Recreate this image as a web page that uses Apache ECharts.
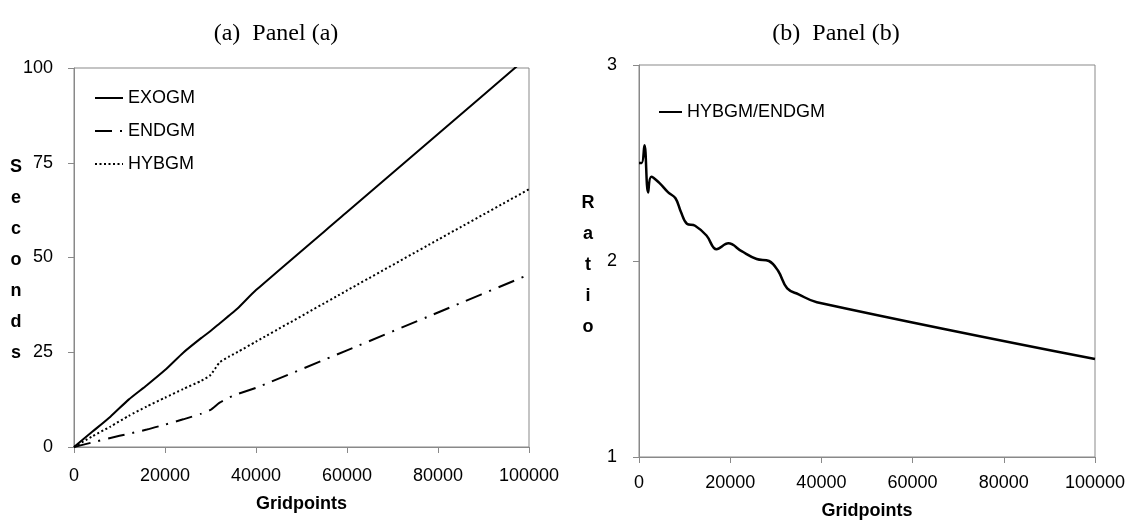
<!DOCTYPE html>
<html><head><meta charset="utf-8">
<script src="https://cdn.jsdelivr.net/npm/echarts@6/dist/echarts.min.js"></script>
<style>html,body{margin:0;padding:0;background:#fff}#c{width:1131px;height:525px}</style>
</head><body><div id="c"></div>
<script>
// ---- Panel (a) data ----
const gridpointsA = [0, 4000, 8000, 12000, 16000, 20000, 24000, 28000, 30000, 32000, 34000, 36000, 40000, 60000, 80000, 100000];
const exogm = [0, 4.0, 8.0, 12.5, 16.3, 20.3, 24.9, 28.8, 30.6, 32.6, 34.6, 36.6, 41.4, 62.0, 82.6, 103.2];
const endgm = [0, 1.2, 2.4, 3.5, 4.6, 5.9, 7.3, 8.8, 9.8, 11.7, 13.0, 14.0, 15.6, 25.5, 35.5, 45.5];
const hybgm = [0, 2.8, 5.4, 8.2, 10.7, 13.0, 15.3, 17.5, 19.0, 22.3, 23.8, 25.1, 27.8, 41.3, 54.7, 68.0];
// ---- Panel (b) data ----
const gridpointsB = [0, 600, 1200, 2000, 2700, 4400, 6400, 8000, 9200, 10500, 12300, 14800, 17000, 19600, 22500, 25800, 28500, 30500, 32500, 35000, 39000, 100000];
const ratio = [2.50, 2.50, 2.59, 2.35, 2.43, 2.40, 2.35, 2.32, 2.25, 2.19, 2.18, 2.13, 2.06, 2.09, 2.05, 2.01, 2.00, 1.95, 1.86, 1.83, 1.79, 1.50];
// ---- axis ranges / ticks ----
const xRange = {min: 0, max: 100000, interval: 20000};
const secondsRange = {min: 0, max: 100, interval: 25};
const ratioRange = {min: 1, max: 3, interval: 1};
const titles = ['(a)  Panel (a)', '(b)  Panel (b)'];
const axisNames = {x: 'Gridpoints', yA: 'Seconds', yB: 'Ratio'};

const pairs = (xs, ys) => xs.map((x, i) => [x, ys[i]]);
const AX = '#898989';
const FONT = '"Liberation Sans", Arial, sans-serif';

function xAxisCfg(gi, margin, gap) {
  return {
    gridIndex: gi, type: 'value', min: xRange.min, max: xRange.max, interval: xRange.interval,
    axisLine: {show: true, lineStyle: {color: AX, width: 1}},
    axisTick: {show: true, inside: false, length: 6, lineStyle: {color: AX}},
    splitLine: {show: false},
    axisLabel: {color: '#000', fontSize: 18, margin: margin, fontFamily: FONT, formatter: v => String(v)},
    name: axisNames.x, nameLocation: 'middle', nameGap: gap,
    nameTextStyle: {color: '#000', fontSize: 18, fontWeight: 'bold', fontFamily: FONT}
  };
}
function yAxisCfg(gi, r, margin) {
  return {
    gridIndex: gi, type: 'value', min: r.min, max: r.max, interval: r.interval,
    axisLine: {show: true, lineStyle: {color: AX, width: 1}},
    axisTick: {show: true, inside: false, length: 6, lineStyle: {color: AX}},
    splitLine: {show: false},
    axisLabel: {color: '#000', fontSize: 18, margin: margin, fontFamily: FONT, formatter: v => String(v)}
  };
}

const chart = echarts.init(document.getElementById('c'), null, {renderer: 'canvas'});
const option = {
  animation: false,
  backgroundColor: '#fff',
  textStyle: {fontFamily: FONT},
  grid: [
    {left: 74, top: 68, width: 455, height: 379, show: true, borderColor: AX, borderWidth: 1, backgroundColor: 'transparent'},
    {left: 639, top: 65, width: 456, height: 394, show: true, borderColor: AX, borderWidth: 1, backgroundColor: 'transparent'}
  ],
  xAxis: [xAxisCfg(0, 20, 48), xAxisCfg(1, 17, 45)],
  yAxis: [yAxisCfg(0, secondsRange, 21), yAxisCfg(1, ratioRange, 22)],
  legend: [
    {orient: 'vertical', left: 89, top: 84, itemWidth: 28, itemHeight: 14, itemGap: 15, selectedMode: false,
     data: ['EXOGM', 'ENDGM', 'HYBGM'], itemStyle: {opacity: 0},
     textStyle: {fontSize: 18, color: '#000', fontFamily: FONT}},
    {orient: 'vertical', left: 653, top: 98, itemWidth: 23, itemHeight: 14, selectedMode: false,
     data: ['HYBGM/ENDGM'], itemStyle: {opacity: 0},
     textStyle: {fontSize: 18, color: '#000', fontFamily: FONT}}
  ],
  graphic: [
    {type: 'text', x: 276, y: 34, style: {text: titles[0], font: '24px "Liberation Serif", serif', fill: '#000', textAlign: 'center', textVerticalAlign: 'middle'}},
    {type: 'text', x: 836, y: 34, style: {text: titles[1], font: '24px "Liberation Serif", serif', fill: '#000', textAlign: 'center', textVerticalAlign: 'middle'}},
    {type: 'text', x: 16, y: 260, style: {text: axisNames.yA.split('').join('\n'), font: 'bold 18px "Liberation Sans", Arial', lineHeight: 31, fill: '#000', textAlign: 'center', textVerticalAlign: 'middle'}},
    {type: 'text', x: 588, y: 265, style: {text: axisNames.yB.split('').join('\n'), font: 'bold 18px "Liberation Sans", Arial', lineHeight: 31, fill: '#000', textAlign: 'center', textVerticalAlign: 'middle'}}
  ],
  series: [
    {name: 'EXOGM', type: 'line', xAxisIndex: 0, yAxisIndex: 0, data: pairs(gridpointsA, exogm), symbol: 'none', smooth: 0.2, clip: true,
     lineStyle: {color: '#000', width: 2, type: 'solid'}, itemStyle: {color: '#000'}},
    {name: 'ENDGM', type: 'line', xAxisIndex: 0, yAxisIndex: 0, data: pairs(gridpointsA, endgm), symbol: 'none', smooth: 0.2, clip: true,
     lineStyle: {color: '#000', width: 2, type: [17, 8, 2, 8]}, itemStyle: {color: '#000'}},
    {name: 'HYBGM', type: 'line', xAxisIndex: 0, yAxisIndex: 0, data: pairs(gridpointsA, hybgm), symbol: 'none', smooth: 0.2, clip: true,
     lineStyle: {color: '#000', width: 2, type: [2, 2.5]}, itemStyle: {color: '#000'}},
    {name: 'HYBGM/ENDGM', type: 'line', xAxisIndex: 1, yAxisIndex: 1, data: pairs(gridpointsB, ratio), symbol: 'none', smooth: 0.4, clip: true,
     lineStyle: {color: '#000', width: 2.5, type: 'solid'}, itemStyle: {color: '#000'}}
  ]
};
chart.setOption(option);
</script>
</body></html>
